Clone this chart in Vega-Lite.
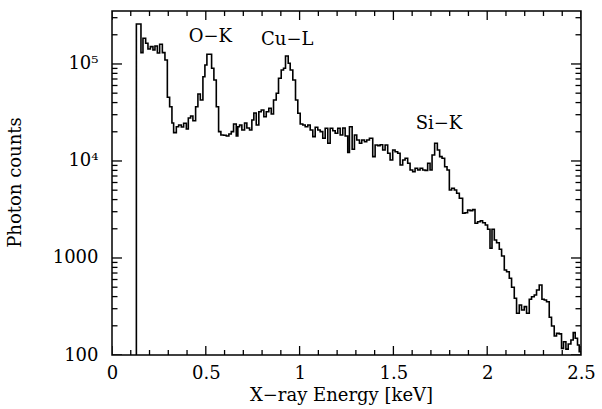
{
  "$schema": "https://vega.github.io/schema/vega-lite/v6.json",
  "width": 469,
  "height": 344,
  "autosize": {"type": "none"},
  "padding": {"left": 112, "top": 11, "right": 21, "bottom": 54},
  "background": "white",
  "config": {
    "view": {"stroke": "black", "strokeWidth": 1.5},
    "axis": {
      "grid": false, "domain": false,
      "labelFont": "DejaVu Serif", "labelFontSize": 18, "labelColor": "black",
      "titleFont": "DejaVu Serif", "titleFontSize": 18, "titleColor": "black", "titleFontWeight": "normal",
      "labelFlush": false, "labelOverlap": false
    }
  },
  "datasets": {
    "spectrum": [
      {"E": 0.1295, "counts": 100},
      {"E": 0.1299, "counts": 258200},
      {"E": 0.1544, "counts": 130800},
      {"E": 0.1651, "counts": 184100},
      {"E": 0.1794, "counts": 163400},
      {"E": 0.1917, "counts": 142800},
      {"E": 0.2045, "counts": 150800},
      {"E": 0.2183, "counts": 139400},
      {"E": 0.2290, "counts": 153300},
      {"E": 0.2417, "counts": 129900},
      {"E": 0.2540, "counts": 159600},
      {"E": 0.2684, "counts": 130800},
      {"E": 0.2822, "counts": 110000},
      {"E": 0.2950, "counts": 45360},
      {"E": 0.3072, "counts": 36280},
      {"E": 0.3195, "counts": 24650},
      {"E": 0.3285, "counts": 19580},
      {"E": 0.3429, "counts": 22570},
      {"E": 0.3552, "counts": 23500},
      {"E": 0.3695, "counts": 22410},
      {"E": 0.3818, "counts": 24470},
      {"E": 0.3962, "counts": 21380},
      {"E": 0.4068, "counts": 27750},
      {"E": 0.4191, "counts": 29100},
      {"E": 0.4313, "counts": 26030},
      {"E": 0.4457, "counts": 36280},
      {"E": 0.4579, "counts": 49060},
      {"E": 0.4707, "counts": 42550},
      {"E": 0.4846, "counts": 73970},
      {"E": 0.4952, "counts": 97660},
      {"E": 0.5059, "counts": 125900},
      {"E": 0.5309, "counts": 90310},
      {"E": 0.5431, "counts": 68400},
      {"E": 0.5559, "counts": 36280},
      {"E": 0.5682, "counts": 20050},
      {"E": 0.5804, "counts": 18540},
      {"E": 0.5948, "counts": 18410},
      {"E": 0.6092, "counts": 18100},
      {"E": 0.6230, "counts": 18980},
      {"E": 0.6358, "counts": 20050},
      {"E": 0.6480, "counts": 24060},
      {"E": 0.6624, "counts": 18100},
      {"E": 0.6709, "counts": 22570},
      {"E": 0.6800, "counts": 23500},
      {"E": 0.6922, "counts": 20870},
      {"E": 0.7066, "counts": 24650},
      {"E": 0.7188, "counts": 21890},
      {"E": 0.7332, "counts": 20870},
      {"E": 0.7455, "counts": 26470},
      {"E": 0.7561, "counts": 31240},
      {"E": 0.7689, "counts": 23500},
      {"E": 0.7827, "counts": 32220},
      {"E": 0.7955, "counts": 33550},
      {"E": 0.8094, "counts": 28620},
      {"E": 0.8222, "counts": 32220},
      {"E": 0.8360, "counts": 34940},
      {"E": 0.8488, "counts": 30510},
      {"E": 0.8610, "counts": 42550},
      {"E": 0.8754, "counts": 49880},
      {"E": 0.8876, "counts": 71220},
      {"E": 0.9020, "counts": 86720},
      {"E": 0.9143, "counts": 90310},
      {"E": 0.9249, "counts": 120900},
      {"E": 0.9393, "counts": 101700},
      {"E": 0.9499, "counts": 86720},
      {"E": 0.9638, "counts": 68400},
      {"E": 0.9782, "counts": 42550},
      {"E": 0.9904, "counts": 31020},
      {"E": 1.0032, "counts": 24060},
      {"E": 1.0170, "counts": 23500},
      {"E": 1.0298, "counts": 22570},
      {"E": 1.0437, "counts": 23500},
      {"E": 1.0564, "counts": 20870},
      {"E": 1.0703, "counts": 17810},
      {"E": 1.0831, "counts": 22260},
      {"E": 1.0969, "counts": 20870},
      {"E": 1.1097, "counts": 20050},
      {"E": 1.1235, "counts": 17140},
      {"E": 1.1363, "counts": 21740},
      {"E": 1.1502, "counts": 15220},
      {"E": 1.1629, "counts": 21740},
      {"E": 1.1768, "counts": 20530},
      {"E": 1.1896, "counts": 19300},
      {"E": 1.2034, "counts": 21740},
      {"E": 1.2162, "counts": 18540},
      {"E": 1.2300, "counts": 21890},
      {"E": 1.2428, "counts": 18100},
      {"E": 1.2567, "counts": 12240},
      {"E": 1.2657, "counts": 22570},
      {"E": 1.2801, "counts": 13200},
      {"E": 1.2923, "counts": 18540},
      {"E": 1.3046, "counts": 16460},
      {"E": 1.3190, "counts": 15220},
      {"E": 1.3312, "counts": 16460},
      {"E": 1.3456, "counts": 15810},
      {"E": 1.3578, "counts": 16460},
      {"E": 1.3722, "counts": 17140},
      {"E": 1.3898, "counts": 11080},
      {"E": 1.4026, "counts": 14620},
      {"E": 1.4164, "counts": 14400},
      {"E": 1.4292, "counts": 14700},
      {"E": 1.4430, "counts": 12980},
      {"E": 1.4558, "counts": 14620},
      {"E": 1.4696, "counts": 12010},
      {"E": 1.4824, "counts": 10240},
      {"E": 1.4963, "counts": 12980},
      {"E": 1.5090, "counts": 12470},
      {"E": 1.5229, "counts": 12010},
      {"E": 1.5357, "counts": 9094},
      {"E": 1.5495, "counts": 10240},
      {"E": 1.5623, "counts": 10660},
      {"E": 1.5761, "counts": 9469},
      {"E": 1.5889, "counts": 8075},
      {"E": 1.6028, "counts": 7756},
      {"E": 1.6155, "counts": 8407},
      {"E": 1.6294, "counts": 8075},
      {"E": 1.6422, "counts": 8407},
      {"E": 1.6560, "counts": 8075},
      {"E": 1.6688, "counts": 8000},
      {"E": 1.6826, "counts": 9469},
      {"E": 1.6954, "counts": 8075},
      {"E": 1.7061, "counts": 11530},
      {"E": 1.7199, "counts": 15220},
      {"E": 1.7343, "counts": 12980},
      {"E": 1.7465, "counts": 11080},
      {"E": 1.7593, "counts": 10660},
      {"E": 1.7732, "counts": 8735},
      {"E": 1.7859, "counts": 8075},
      {"E": 1.7982, "counts": 5024},
      {"E": 1.8104, "counts": 5231},
      {"E": 1.8248, "counts": 5024},
      {"E": 1.8371, "counts": 4645},
      {"E": 1.8514, "counts": 4125},
      {"E": 1.8690, "counts": 2889},
      {"E": 1.8818, "counts": 2931},
      {"E": 1.8956, "counts": 3124},
      {"E": 1.9084, "counts": 3080},
      {"E": 1.9223, "counts": 3150},
      {"E": 1.9350, "counts": 2279},
      {"E": 1.9489, "counts": 2367},
      {"E": 1.9633, "counts": 2424},
      {"E": 1.9755, "counts": 2312},
      {"E": 1.9899, "counts": 2189},
      {"E": 2.0021, "counts": 1977},
      {"E": 2.0149, "counts": 1259},
      {"E": 2.0256, "counts": 1977},
      {"E": 2.0378, "counts": 1533},
      {"E": 2.0501, "counts": 1438},
      {"E": 2.0644, "counts": 1229},
      {"E": 2.0767, "counts": 1049},
      {"E": 2.0911, "counts": 752},
      {"E": 2.1033, "counts": 722},
      {"E": 2.1177, "counts": 618},
      {"E": 2.1299, "counts": 499},
      {"E": 2.1443, "counts": 384},
      {"E": 2.1565, "counts": 269},
      {"E": 2.1709, "counts": 328},
      {"E": 2.1832, "counts": 291},
      {"E": 2.1976, "counts": 315},
      {"E": 2.2098, "counts": 269},
      {"E": 2.2242, "counts": 375},
      {"E": 2.2364, "counts": 399},
      {"E": 2.2508, "counts": 416},
      {"E": 2.2630, "counts": 468},
      {"E": 2.2774, "counts": 527},
      {"E": 2.2918, "counts": 375},
      {"E": 2.3040, "counts": 369},
      {"E": 2.3163, "counts": 354},
      {"E": 2.3307, "counts": 245},
      {"E": 2.3429, "counts": 199},
      {"E": 2.3573, "counts": 157},
      {"E": 2.3695, "counts": 167},
      {"E": 2.3839, "counts": 165},
      {"E": 2.3962, "counts": 117},
      {"E": 2.4068, "counts": 137},
      {"E": 2.4196, "counts": 115},
      {"E": 2.4318, "counts": 130},
      {"E": 2.4462, "counts": 143},
      {"E": 2.4585, "counts": 170},
      {"E": 2.4691, "counts": 149},
      {"E": 2.4814, "counts": 127},
      {"E": 2.4904, "counts": 108},
      {"E": 2.5, "counts": 108}
    ],
    "xmajor": [{"E": 0}, {"E": 0.5}, {"E": 1}, {"E": 1.5}, {"E": 2}, {"E": 2.5}],
    "xminor": [{"E": 0.1}, {"E": 0.2}, {"E": 0.3}, {"E": 0.4}, {"E": 0.6}, {"E": 0.7}, {"E": 0.8}, {"E": 0.9}, {"E": 1.1}, {"E": 1.2}, {"E": 1.3}, {"E": 1.4}, {"E": 1.6}, {"E": 1.7}, {"E": 1.8}, {"E": 1.9}, {"E": 2.1}, {"E": 2.2}, {"E": 2.3}, {"E": 2.4}],
    "ymajor": [{"counts": 100}, {"counts": 1000}, {"counts": 10000}, {"counts": 100000}],
    "yminor": [{"counts": 200}, {"counts": 300}, {"counts": 400}, {"counts": 500}, {"counts": 600}, {"counts": 700}, {"counts": 800}, {"counts": 900}, {"counts": 2000}, {"counts": 3000}, {"counts": 4000}, {"counts": 5000}, {"counts": 6000}, {"counts": 7000}, {"counts": 8000}, {"counts": 9000}, {"counts": 20000}, {"counts": 30000}, {"counts": 40000}, {"counts": 50000}, {"counts": 60000}, {"counts": 70000}, {"counts": 80000}, {"counts": 90000}, {"counts": 200000}, {"counts": 300000}]
  },
  "layer": [
    {
      "data": {"name": "spectrum"},
      "mark": {"type": "line", "interpolate": "step-after", "color": "black", "strokeWidth": 1.6, "clip": true},
      "encoding": {
        "x": {"field": "E", "type": "quantitative",
          "scale": {"domain": [0, 2.5], "nice": false, "zero": false},
          "axis": {"orient": "bottom", "values": [0, 0.5, 1, 1.5, 2, 2.5], "format": ".2~f", "ticks": false, "labelPadding": 9,
            "title": "X−ray Energy [keV]", "titleX": 229, "titleY": 40, "titleBaseline": "middle", "titleAlign": "center"}},
        "y": {"field": "counts", "type": "quantitative",
          "scale": {"type": "log", "domain": [100, 351600], "nice": false},
          "axis": {"orient": "left", "values": [100, 1000, 10000, 100000], "ticks": false, "labelPadding": 14,
            "labelExpr": "datum.value == 100000 ? '10⁵' : datum.value == 10000 ? '10⁴' : datum.value == 1000 ? '1000' : '100'",
            "title": "Photon counts", "titleX": -97, "titleY": 171, "titleAngle": -90, "titleBaseline": "middle", "titleAlign": "center"}}
      }
    },
    {
      "data": {"name": "xmajor"},
      "mark": {"type": "tick", "orient": "vertical", "color": "#000000", "size": 18, "thickness": 1.3, "opacity": 1, "clip": true},
      "encoding": {
        "x": {"field": "E", "type": "quantitative", "scale": {"domain": [0, 2.5], "nice": false, "zero": false}, "axis": null},
        "y": {"datum": 100, "type": "quantitative", "scale": {"type": "log", "domain": [100, 351600], "nice": false}, "axis": null}
      }
    },
    {
      "data": {"name": "xmajor"},
      "mark": {"type": "tick", "orient": "vertical", "color": "#000000", "size": 18, "thickness": 1.3, "opacity": 1, "clip": true},
      "encoding": {
        "x": {"field": "E", "type": "quantitative", "scale": {"domain": [0, 2.5], "nice": false, "zero": false}, "axis": null},
        "y": {"datum": 351600, "type": "quantitative", "scale": {"type": "log", "domain": [100, 351600], "nice": false}, "axis": null}
      }
    },
    {
      "data": {"name": "xminor"},
      "mark": {"type": "tick", "orient": "vertical", "color": "#000000", "size": 10, "thickness": 1.3, "opacity": 1, "clip": true},
      "encoding": {
        "x": {"field": "E", "type": "quantitative", "scale": {"domain": [0, 2.5], "nice": false, "zero": false}, "axis": null},
        "y": {"datum": 100, "type": "quantitative", "scale": {"type": "log", "domain": [100, 351600], "nice": false}, "axis": null}
      }
    },
    {
      "data": {"name": "xminor"},
      "mark": {"type": "tick", "orient": "vertical", "color": "#000000", "size": 10, "thickness": 1.3, "opacity": 1, "clip": true},
      "encoding": {
        "x": {"field": "E", "type": "quantitative", "scale": {"domain": [0, 2.5], "nice": false, "zero": false}, "axis": null},
        "y": {"datum": 351600, "type": "quantitative", "scale": {"type": "log", "domain": [100, 351600], "nice": false}, "axis": null}
      }
    },
    {
      "data": {"name": "ymajor"},
      "mark": {"type": "tick", "orient": "horizontal", "color": "#000000", "size": 20, "thickness": 1.3, "opacity": 1, "clip": true},
      "encoding": {
        "y": {"field": "counts", "type": "quantitative", "scale": {"type": "log", "domain": [100, 351600], "nice": false}, "axis": null},
        "x": {"datum": 0, "type": "quantitative", "scale": {"domain": [0, 2.5], "nice": false, "zero": false}, "axis": null}
      }
    },
    {
      "data": {"name": "ymajor"},
      "mark": {"type": "tick", "orient": "horizontal", "color": "#000000", "size": 20, "thickness": 1.3, "opacity": 1, "clip": true},
      "encoding": {
        "y": {"field": "counts", "type": "quantitative", "scale": {"type": "log", "domain": [100, 351600], "nice": false}, "axis": null},
        "x": {"datum": 2.5, "type": "quantitative", "scale": {"domain": [0, 2.5], "nice": false, "zero": false}, "axis": null}
      }
    },
    {
      "data": {"name": "yminor"},
      "mark": {"type": "tick", "orient": "horizontal", "color": "#000000", "size": 11, "thickness": 1.3, "opacity": 1, "clip": true},
      "encoding": {
        "y": {"field": "counts", "type": "quantitative", "scale": {"type": "log", "domain": [100, 351600], "nice": false}, "axis": null},
        "x": {"datum": 0, "type": "quantitative", "scale": {"domain": [0, 2.5], "nice": false, "zero": false}, "axis": null}
      }
    },
    {
      "data": {"name": "yminor"},
      "mark": {"type": "tick", "orient": "horizontal", "color": "#000000", "size": 11, "thickness": 1.3, "opacity": 1, "clip": true},
      "encoding": {
        "y": {"field": "counts", "type": "quantitative", "scale": {"type": "log", "domain": [100, 351600], "nice": false}, "axis": null},
        "x": {"datum": 2.5, "type": "quantitative", "scale": {"domain": [0, 2.5], "nice": false, "zero": false}, "axis": null}
      }
    },
    {
      "data": {"values": [
        {"E": 0.5245, "counts": 191000, "name": "O−K"},
        {"E": 0.934, "counts": 175000, "name": "Cu−L"},
        {"E": 1.743, "counts": 24300, "name": "Si−K"}
      ]},
      "mark": {"type": "text", "font": "DejaVu Serif", "fontSize": 18, "color": "black", "align": "center", "baseline": "middle"},
      "encoding": {
        "x": {"field": "E", "type": "quantitative", "scale": {"domain": [0, 2.5], "nice": false, "zero": false}, "axis": null},
        "y": {"field": "counts", "type": "quantitative", "scale": {"type": "log", "domain": [100, 351600], "nice": false}, "axis": null},
        "text": {"field": "name"}
      }
    }
  ],
  "resolve": {"axis": {"x": "independent", "y": "independent"}}
}
